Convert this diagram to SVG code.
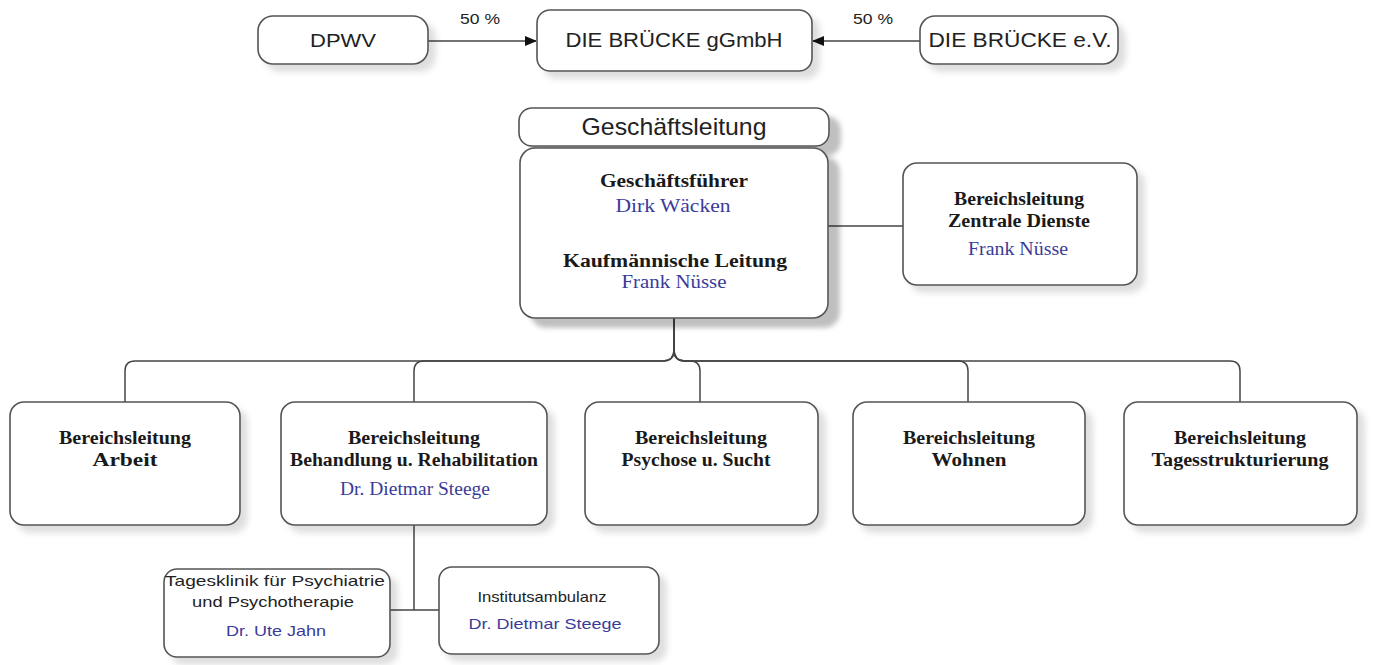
<svg xmlns="http://www.w3.org/2000/svg" width="1375" height="665" viewBox="0 0 1375 665">
<defs>
<filter id="sh" x="-10%" y="-10%" width="130%" height="140%">
<feDropShadow dx="7" dy="7" stdDeviation="3" flood-color="#000" flood-opacity="0.13"/>
</filter>
<filter id="shb" x="-10%" y="-10%" width="130%" height="140%">
<feDropShadow dx="11" dy="9" stdDeviation="2.5" flood-color="#000" flood-opacity="0.25"/>
</filter>
<marker id="ah" markerWidth="12" markerHeight="10" refX="11" refY="5" orient="auto" markerUnits="userSpaceOnUse">
<path d="M0,0 L12,5 L0,10 Z" fill="#111"/>
</marker>
</defs>
<style>
.box{fill:#fff;stroke:#555;stroke-width:1.6}
.ln{fill:none;stroke:#444;stroke-width:1.5}
.sans{font-family:"Liberation Sans",Arial,sans-serif;fill:#222;text-anchor:middle}
.sb{font-family:"Liberation Serif","Times New Roman",serif;font-weight:bold;fill:#1a1a1a;text-anchor:middle}
.sr{font-family:"Liberation Serif","Times New Roman",serif;fill:#3b3b98;text-anchor:middle}
.blue{fill:#3b3b98}
</style>
<rect width="1375" height="665" fill="#fff"/>

<g id="connectors">
<line class="ln" x1="428" y1="41" x2="536" y2="41" marker-end="url(#ah)"/>
<line class="ln" x1="920" y1="41" x2="813" y2="41" marker-end="url(#ah)"/>
<line class="ln" x1="828" y1="226" x2="903" y2="226"/>
<path class="ln" d="M674 318 V350 Q674 361 663 361 H135 Q125 361 125 371 V402"/>
<path class="ln" d="M674 318 V350 Q674 361 663 361 H424 Q414 361 414 371 V402"/>
<path class="ln" d="M674 318 V350 Q674 361 685 361 H690 Q700 361 700 371 V402"/>
<path class="ln" d="M674 318 V350 Q674 361 685 361 H958 Q968 361 968 371 V402"/>
<path class="ln" d="M674 318 V350 Q674 361 685 361 H1230 Q1240 361 1240 371 V402"/>
<line class="ln" x1="414" y1="525" x2="414" y2="610"/>
<line class="ln" x1="390" y1="610" x2="439" y2="610"/>
</g>

<g id="dpwv">
<rect class="box" x="258" y="16" width="170" height="48" rx="15" filter="url(#sh)"/>
<text class="sans" x="343" y="47" font-size="19" textLength="66" lengthAdjust="spacingAndGlyphs">DPWV</text>
</g>
<text class="sans" x="480" y="24" font-size="14" textLength="40" lengthAdjust="spacingAndGlyphs">50 %</text>

<g id="gmbh">
<rect class="box" x="537" y="10" width="275" height="61" rx="13" filter="url(#sh)"/>
<text class="sans" x="674" y="47" font-size="19.5" textLength="217" lengthAdjust="spacingAndGlyphs">DIE BRÜCKE gGmbH</text>
</g>
<text class="sans" x="873" y="24" font-size="14" textLength="40" lengthAdjust="spacingAndGlyphs">50 %</text>

<g id="ev">
<rect class="box" x="920" y="16" width="198" height="48" rx="15" filter="url(#sh)"/>
<text class="sans" x="1020" y="47" font-size="19.5" textLength="183" lengthAdjust="spacingAndGlyphs">DIE BRÜCKE e.V.</text>
</g>

<g id="geschaeftsleitung">
<rect class="box" x="519" y="108" width="310" height="38" rx="13" filter="url(#shb)"/>
<text class="sans" x="674" y="135" font-size="24" textLength="185" lengthAdjust="spacingAndGlyphs">Geschäftsleitung</text>
<rect class="box" x="520" y="148" width="308" height="170" rx="15" filter="url(#shb)"/>
<text class="sb" x="674" y="187" font-size="18.5" textLength="148" lengthAdjust="spacingAndGlyphs">Geschäftsführer</text>
<text class="sr" x="673" y="212" font-size="18.5" textLength="115" lengthAdjust="spacingAndGlyphs">Dirk Wäcken</text>
<text class="sb" x="675" y="267" font-size="18.5" textLength="224" lengthAdjust="spacingAndGlyphs">Kaufmännische Leitung</text>
<text class="sr" x="674" y="288" font-size="18.5" textLength="105" lengthAdjust="spacingAndGlyphs">Frank Nüsse</text>
</g>

<g id="zentrale">
<rect class="box" x="903" y="163" width="234" height="122" rx="14" filter="url(#sh)"/>
<text class="sb" x="1019" y="205" font-size="18" textLength="130" lengthAdjust="spacingAndGlyphs">Bereichsleitung</text>
<text class="sb" x="1019" y="227" font-size="18" textLength="142" lengthAdjust="spacingAndGlyphs">Zentrale Dienste</text>
<text class="sr" x="1018" y="255" font-size="18" textLength="100" lengthAdjust="spacingAndGlyphs">Frank Nüsse</text>
</g>

<g id="arbeit">
<rect class="box" x="10" y="402" width="230" height="123" rx="14" filter="url(#sh)"/>
<text class="sb" x="125" y="444" font-size="18" textLength="132" lengthAdjust="spacingAndGlyphs">Bereichsleitung</text>
<text class="sb" x="125" y="466" font-size="18" textLength="65" lengthAdjust="spacingAndGlyphs">Arbeit</text>
</g>

<g id="behandlung">
<rect class="box" x="281" y="402" width="266" height="123" rx="14" filter="url(#sh)"/>
<text class="sb" x="414" y="444" font-size="18" textLength="132" lengthAdjust="spacingAndGlyphs">Bereichsleitung</text>
<text class="sb" x="414" y="466" font-size="18" textLength="248" lengthAdjust="spacingAndGlyphs">Behandlung u. Rehabilitation</text>
<text class="sr" x="415" y="495" font-size="18" textLength="150" lengthAdjust="spacingAndGlyphs">Dr. Dietmar Steege</text>
</g>

<g id="psychose">
<rect class="box" x="585" y="402" width="233" height="123" rx="14" filter="url(#sh)"/>
<text class="sb" x="701" y="444" font-size="18" textLength="132" lengthAdjust="spacingAndGlyphs">Bereichsleitung</text>
<text class="sb" x="696" y="466" font-size="18" textLength="149" lengthAdjust="spacingAndGlyphs">Psychose u. Sucht</text>
</g>

<g id="wohnen">
<rect class="box" x="853" y="402" width="232" height="123" rx="14" filter="url(#sh)"/>
<text class="sb" x="969" y="444" font-size="18" textLength="132" lengthAdjust="spacingAndGlyphs">Bereichsleitung</text>
<text class="sb" x="969" y="466" font-size="18" textLength="75" lengthAdjust="spacingAndGlyphs">Wohnen</text>
</g>

<g id="tagesstrukturierung">
<rect class="box" x="1124" y="402" width="233" height="123" rx="14" filter="url(#sh)"/>
<text class="sb" x="1240" y="444" font-size="18" textLength="132" lengthAdjust="spacingAndGlyphs">Bereichsleitung</text>
<text class="sb" x="1240" y="466" font-size="18" textLength="177" lengthAdjust="spacingAndGlyphs">Tagesstrukturierung</text>
</g>

<g id="tagesklinik">
<rect class="box" x="164" y="569" width="226" height="88" rx="13" filter="url(#sh)"/>
<text class="sans" x="275" y="586" font-size="15" textLength="220" lengthAdjust="spacingAndGlyphs">Tagesklinik für Psychiatrie</text>
<text class="sans" x="273" y="607" font-size="15" textLength="162" lengthAdjust="spacingAndGlyphs">und Psychotherapie</text>
<text class="sans blue" x="276" y="636" font-size="15" textLength="100" lengthAdjust="spacingAndGlyphs">Dr. Ute Jahn</text>
</g>

<g id="institutsambulanz">
<rect class="box" x="439" y="567" width="220" height="87" rx="13" filter="url(#sh)"/>
<text class="sans" x="542" y="602" font-size="15" textLength="129" lengthAdjust="spacingAndGlyphs">Institutsambulanz</text>
<text class="sans blue" x="545" y="629" font-size="15" textLength="153" lengthAdjust="spacingAndGlyphs">Dr. Dietmar Steege</text>
</g>
</svg>
